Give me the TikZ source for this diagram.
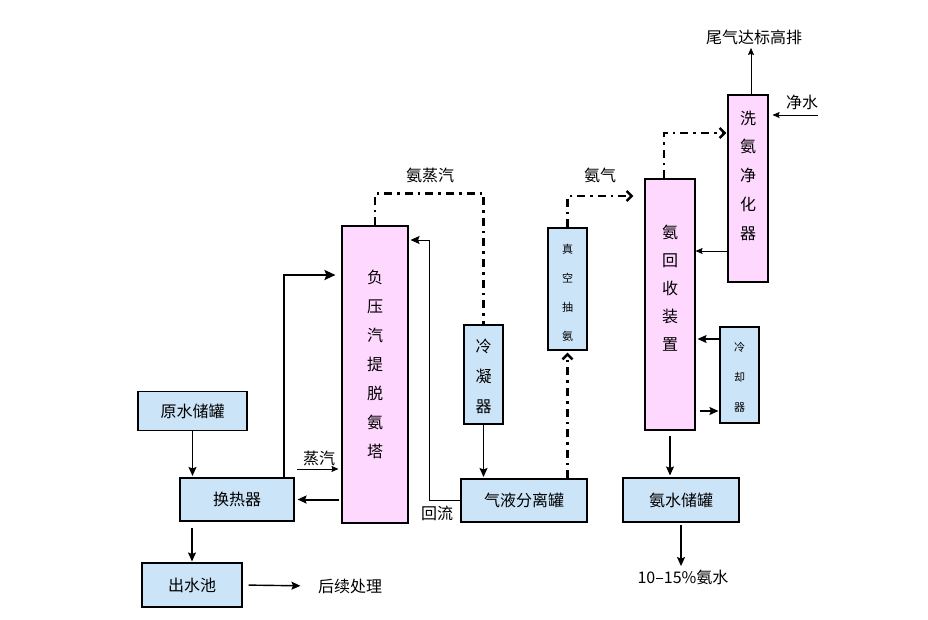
\documentclass[tikz,border=0pt]{standalone}
\usepackage{fontspec}
\setmainfont{Noto Sans CJK SC}
\usepackage{tikz}
\usetikzlibrary{arrows.meta}
\definecolor{tankblue}{RGB}{204,228,248}
\definecolor{towerpink}{RGB}{255,216,255}

\begin{document}
\begin{tikzpicture} [x=1pt,y=-1pt,
        font=\fontsize{16}{19}\selectfont,
        tank/.style={draw,line width=1.1pt,fill=tankblue,inner sep=0pt},
        tower/.style={draw,line width=1.1pt,fill=towerpink,inner sep=0pt},
        vtext/.style={align=center,font=\fontsize{16}{29}\selectfont},
        stext/.style={align=center,font=\fontsize{11}{29}\selectfont},
        flow/.style={-{Stealth[length=9pt,width=8pt,inset=1.5pt]},line width=1.4pt},
        thinflow/.style={-{Stealth[length=7pt,width=6pt,inset=1pt]},line width=0.8pt},
        heavy/.style={-{Stealth[length=11pt,width=10pt,inset=2pt]},line width=2.6pt},
        gas/.style={-{Straight Barb[length=5pt,width=10pt]},line width=2.6pt,
            dash pattern=on 8pt off 5pt on 2.6pt off 5pt}]
        \useasboundingbox[fill=white] (0,0) rectangle (928,619);
        % left part: water side
        \node[tank,minimum width=109pt,minimum height=39pt] at (192.5,411) (yuan) {原水储罐};
        \node[tank,minimum width=114pt,minimum height=43pt] at (237,499.5) (huan) {换热器};
        \node[tank,minimum width=100pt,minimum height=44pt] at (192,585) (chu) {出水池};
        \node at (350,586) (houxu) {后续处理};
        \node[tower,minimum width=66pt,minimum height=297pt,
            label={[vtext,yshift=10pt]center:负\\压\\汽\\提\\脱\\氨\\塔}] at (375,374.5) (fuya) {};
        \node at (319,458) (zq) {蒸汽};
        % middle part
        \node[tank,minimum width=39pt,minimum height=99pt,
            label={[vtext,font=\fontsize{16}{30}\selectfont,yshift=-2pt]center:冷\\凝\\器}] at (483.5,374.5) (ls) {};
        \node[tank,minimum width=126pt,minimum height=43pt] at (524,500.5) (qiye) {气液分离罐};
        \node[tank,minimum width=39pt,minimum height=122pt,
            label={[stext,yshift=-4pt]center:真\\空\\抽\\氨}] at (567.5,289) (zk) {};
        \node at (437,513) (hl) {回流};
        \node at (430,175) (azq) {氨蒸汽};
        \node at (600,175) (aq) {氨气};
        % right part: ammonia side
        \node[tower,minimum width=50pt,minimum height=251pt,
            label={[vtext,font=\fontsize{16}{28}\selectfont,yshift=16pt]center:氨\\回\\收\\装\\置}] at (670,304.5) (ahs) {};
        \node[tower,minimum width=40pt,minimum height=187pt,
            label={[vtext,font=\fontsize{16}{28.75}\selectfont,yshift=13pt]center:洗\\氨\\净\\化\\器}] at (748,188.5) (xa) {};
        \node[tank,minimum width=39pt,minimum height=96pt,
            label={[stext,font=\fontsize{11}{30}\selectfont,yshift=-2pt]center:冷\\却\\器}] at (739.5,375) (lq) {};
        \node[tank,minimum width=116pt,minimum height=44pt] at (681,500) (as) {氨水储罐};
        \node at (683,577) (out) {10--15\%氨水};
        \node at (754,37) (wq) {尾气达标高排};
        \node at (802,102) (js) {净水};
        \coordinate (riser) at (284,275);
        \coordinate (back) at (429,240);
        \coordinate (washret) at ([yshift=-62.5pt]xa.west);
        \coordinate (coolin) at ([yshift=36pt]lq.west);
        \coordinate (coolret) at ([yshift=-36pt]lq.west);
        \coordinate (water) at ([xshift=-4pt,yshift=-13pt]js.east);
        % liquid lines
        \draw[flow,shorten >=1.5pt] (yuan.south) -- (yuan.south |- huan.north);
        \draw[flow,shorten <=6pt,shorten >=1pt] (chu.north |- huan.south) -- (chu.north);
        \draw[flow,shorten <=6pt,shorten >=14pt] (chu.east) -- (houxu.west);
        \draw[flow,line width=2pt,shorten <=2pt,shorten >=3pt] (fuya.west |- huan.east) -- (huan.east);
        \draw[heavy,shorten >=6pt] (huan.north -| riser) -- (riser) -- (fuya.west |- riser);
        \draw[thinflow,shorten >=3pt] ([xshift=-2pt]zq.south west) -- (zq.south -| fuya.west);
        \draw[thinflow,-{Stealth[length=9pt,width=8pt,inset=1.5pt]},shorten >=2pt] (qiye.west) -| (back) -- (fuya.east |- back);
        \draw[flow,shorten >=1.5pt] (ls.south) -- (ls.south |- qiye.north);
        \draw[flow,shorten <=5pt,shorten >=2pt] (ahs.south) -- (ahs.south |- as.north);
        \draw[flow,shorten <=2pt] (as.south) -- (as.south |- out.north);
        \draw[thinflow] (washret) -- (washret -| ahs.east);
        \draw[flow,shorten >=2pt] (coolin) -- (coolin -| ahs.east);
        \draw[flow,shorten <=4pt,shorten >=1pt] (coolret -| ahs.east) -- (coolret);
        \draw[thinflow] ([xshift=3pt]xa.north) -- ([xshift=3pt]xa.north |- wq.south);
        \draw[thinflow,shorten >=4pt] (water) -- (water -| xa.east);
        % gas lines
        \draw[gas,-] (fuya.north) -- ++(0,-32) -| (ls.north);
        \draw[gas,shorten >=2pt] (zk.south |- qiye.north) -- (zk.south);
        \draw[gas,shorten >=11pt] (zk.north) |- ([yshift=108.5pt]ahs.west);
        \draw[gas,shorten >=1pt] ([xshift=-6pt]ahs.north) |- ([yshift=55.5pt]xa.west);
    \end{tikzpicture}
\end{document}
